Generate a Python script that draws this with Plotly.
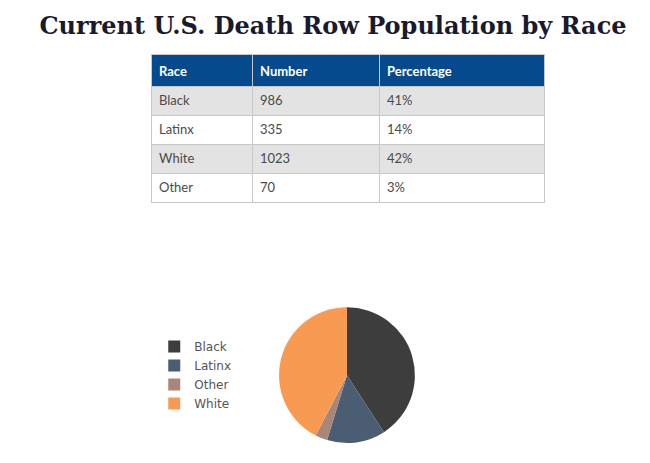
import plotly.graph_objects as go

# Data
races = ["Black", "Latinx", "White", "Other"]
numbers = [986, 335, 1023, 70]
percentages = ["41%", "14%", "42%", "3%"]

pie_labels = ["Black", "Latinx", "Other", "White"]
pie_values = [986, 335, 70, 1023]
pie_colors = ["#3d3d3d", "#4a5d72", "#a8877a", "#f89a52"]

row_fill = ["#e3e3e3" if i % 2 == 0 else "#ffffff" for i in range(len(races))]

fig = go.Figure()

fig.add_trace(go.Table(
    domain=dict(x=[0.22, 0.826], y=[0.5, 0.899]),
    columnwidth=[101, 127, 165],
    header=dict(
        values=["<b>Race</b>", "<b>Number</b>", "<b>Percentage</b>"],
        fill_color="#044a8c",
        font=dict(color="white", size=13, family="Lato"),
        align="left",
        height=29,
        line=dict(color="#c8c8c8", width=1),
    ),
    cells=dict(
        values=[races, numbers, percentages],
        fill_color=[row_fill] * 3,
        font=dict(color="#4a4a4a", size=13, family="Lato"),
        align="left",
        height=29,
        line=dict(color="#c8c8c8", width=1),
    ),
))

fig.add_trace(go.Pie(
    labels=pie_labels,
    values=pie_values,
    marker=dict(colors=pie_colors),
    sort=False,
    direction="clockwise",
    rotation=0,
    textinfo="none",
    domain=dict(x=[0.417, 0.626], y=[0.06, 0.354]),
))

fig.update_layout(
    width=650, height=463,
    margin=dict(l=0, r=0, t=0, b=0),
    paper_bgcolor="white",
    title=dict(
        text="<b>Current U.S. Death Row Population by Race</b>",
        x=0.5, xanchor="center", y=0.962, yanchor="middle",
        font=dict(family="DejaVu Serif", size=24, color="#1a1a2e"),
    ),
    legend=dict(
        x=0.225, y=0.30, xanchor="left", yanchor="top",
        font=dict(size=12, color="#555555", family="DejaVu Sans"),
        itemwidth=30,
    ),
)

fig.write_html("out.html")
